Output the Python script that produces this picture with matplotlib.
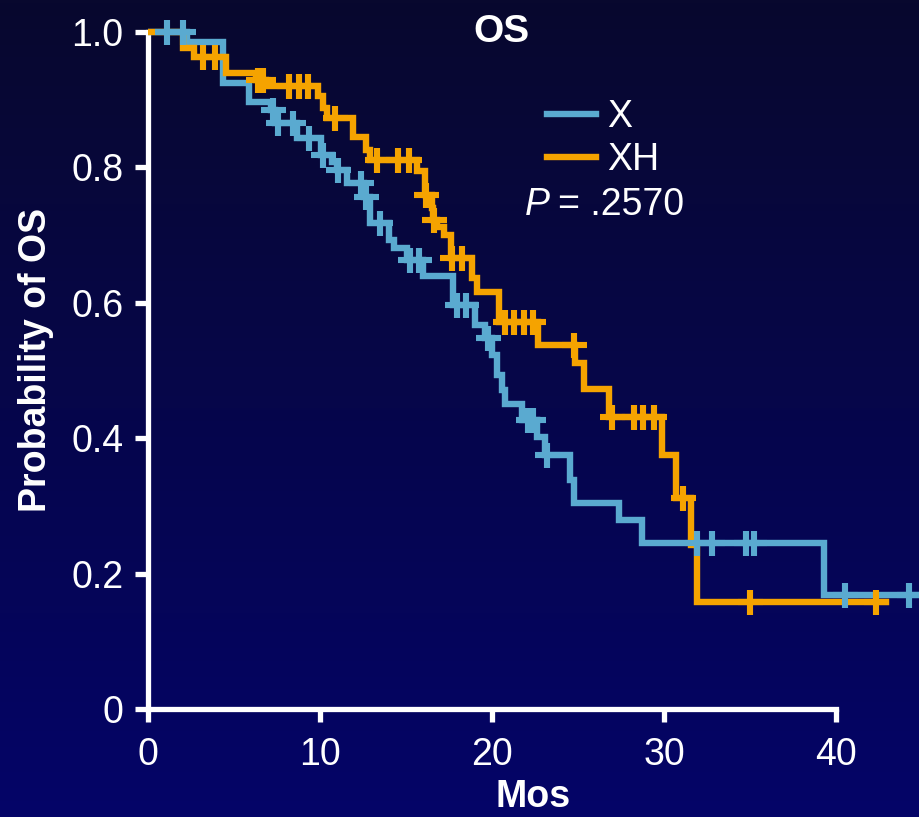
import numpy as np
import matplotlib
matplotlib.use("Agg")
import matplotlib.pyplot as plt
from matplotlib.lines import Line2D

plt.rcParams['font.family'] = ['Liberation Sans', 'DejaVu Sans']

# Kaplan-Meier step data (months, survival probability after the step)
x_times = [0, 2.3, 4.4, 5.9, 7.2, 7.4, 8.7, 10.1, 10.7, 11.0, 11.56, 12.6, 12.9,
           14.0, 14.3, 15.05, 16.0, 17.76, 19.0, 19.6, 20.0, 20.3, 20.6, 20.75,
           21.75, 22.6, 23.1, 24.56, 24.76, 27.4, 28.7, 39.3, 45.5]
x_surv = [1.0, 0.985, 0.925, 0.897, 0.885, 0.865, 0.843, 0.818, 0.808, 0.796,
          0.777, 0.757, 0.718, 0.693, 0.681, 0.663, 0.639, 0.597, 0.567, 0.548,
          0.523, 0.493, 0.471, 0.451, 0.427, 0.402, 0.375, 0.338, 0.305, 0.279,
          0.245, 0.168, 0.168]
x_censor = [1.16, 2.04, 7.3, 7.6, 8.45, 9.4, 10.2, 11.05, 12.4, 12.7, 13.5,
            15.25, 15.75, 17.97, 18.5, 19.8, 22.1, 22.4, 23.2, 31.9, 32.8,
            34.75, 35.2, 40.5, 44.2]

xh_times = [0, 2.05, 2.7, 4.57, 6.3, 6.9, 9.9, 10.2, 10.4, 11.95, 12.7, 12.95,
            15.63, 16.1, 16.5, 16.6, 16.8, 17.2, 17.6, 18.84, 19.13, 20.4, 22.7,
            24.8, 25.33, 26.8, 29.9, 30.7, 31.55, 31.93, 42.9]
xh_surv = [1.0, 0.976, 0.963, 0.939, 0.929, 0.92, 0.906, 0.888, 0.873, 0.845,
           0.826, 0.811, 0.794, 0.759, 0.740, 0.722, 0.712, 0.700, 0.666, 0.636,
           0.616, 0.572, 0.538, 0.511, 0.473, 0.432, 0.375, 0.311, 0.242, 0.158,
           0.158]
xh_censor = [3.2, 3.9, 6.4, 6.7, 8.2, 8.8, 9.3, 10.9, 13.3, 14.55, 15.16, 16.2,
             16.65, 17.7, 18.25, 20.78, 21.27, 21.85, 22.4, 24.75, 27.0, 28.25,
             28.8, 29.4, 31.1, 35.0, 42.3]

series_labels = ['X', 'XH']
series_colors = ['#5AAAD0', '#F5A300']
x_ticks = [0, 10, 20, 30, 40]
y_ticks = [0, 0.2, 0.4, 0.6, 0.8, 1.0]
y_tick_labels = ['0', '0.2', '0.4', '0.6', '0.8', '1.0']
p_value_text = '= .2570'

W, H = 919, 817
fig = plt.figure(figsize=(W / 100, H / 100), dpi=100)

# vertical navy gradient background
bg = fig.add_axes([0, 0, 1, 1], zorder=-10)
top = np.array([8, 8, 46]) / 255
bot = np.array([4, 4, 104]) / 255
t = np.linspace(0, 1, 256)[:, None]
grad = top[None, :] * (1 - t) + bot[None, :] * t
bg.imshow(grad[:, None, :], aspect='auto', extent=[0, 1, 0, 1])
bg.axis('off')

x0_px, y0_px = 147.5, 709.0
px_per_x = 17.22
px_per_y = 677.0
xmax = (W - x0_px) / px_per_x
ymax = 1.03
ax = fig.add_axes([x0_px / W, (H - y0_px) / H, xmax * px_per_x / W, ymax * px_per_y / H])
ax.set_facecolor('none')
ax.set_xlim(0, xmax)
ax.set_ylim(0, ymax)

lw = 4.6


def surv_at(times, surv, t):
    idx = np.searchsorted(times, t, side='right') - 1
    return np.asarray(surv)[idx]


for times, surv, cens, color in [(x_times, x_surv, x_censor, series_colors[0]),
                                  (xh_times, xh_surv, xh_censor, series_colors[1])]:
    ax.step(times, surv, where='post', color=color, lw=lw, solid_joinstyle='miter',
            clip_on=True, zorder=3)
    ax.plot(cens, surv_at(times, surv, cens), linestyle='none', marker='+',
            markersize=18, markeredgewidth=4.4, color=color, zorder=4)

for s in ['top', 'right']:
    ax.spines[s].set_visible(False)
for s in ['left', 'bottom']:
    ax.spines[s].set_color('white')
    ax.spines[s].set_linewidth(3.8)
ax.spines['bottom'].set_bounds(0, 40)
ax.spines['left'].set_bounds(0, 1.0)

ax.set_xticks(x_ticks)
ax.set_xticklabels([str(v) for v in x_ticks])
ax.set_yticks(y_ticks)
ax.set_yticklabels(y_tick_labels)
ax.tick_params(colors='white', direction='out', length=9.5, width=3.8,
               labelsize=27)
ax.tick_params(axis='x', pad=11)
ax.tick_params(axis='y', pad=8)

ax.set_xlabel('Mos', color='white', fontsize=27, fontweight='bold', labelpad=4)
ax.set_ylabel('Probability of OS', color='white', fontsize=27, fontweight='bold',
              labelpad=12)

fig.text(501 / W, 1 - 32 / H, 'OS', color='white', fontsize=28, fontweight='bold',
         ha='center', va='center')

handles = [Line2D([], [], color=c, lw=lw) for c in series_colors]
leg = ax.legend(handles, series_labels, loc='upper left',
                bbox_to_anchor=(547 / W, 1 - 99 / H), bbox_transform=fig.transFigure,
                frameon=False, fontsize=27, handlelength=1.3, handletextpad=0.3,
                labelspacing=0.18, borderpad=0, borderaxespad=0)
for txt in leg.get_texts():
    txt.set_color('white')

fig.text(525 / W, 1 - 215 / H, 'P', color='white', fontsize=27, style='italic',
         ha='left', va='baseline')
fig.text(558 / W, 1 - 215 / H, p_value_text, color='white', fontsize=27,
         ha='left', va='baseline')

fig.savefig('out.png', dpi=100)
